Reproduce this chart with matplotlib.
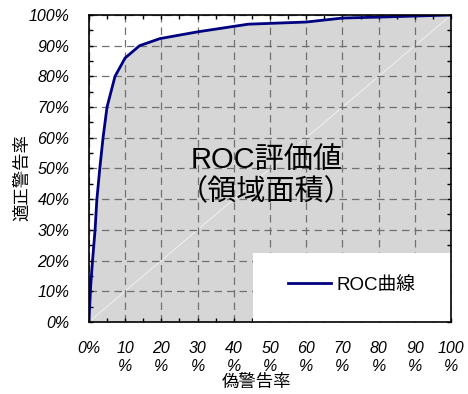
import matplotlib.pyplot as plt
from matplotlib.patches import Rectangle
from matplotlib.ticker import MultipleLocator

# ROC curve (false alarm rate, hit rate)
fpr = [0.0, 0.005, 0.01, 0.017, 0.022, 0.03, 0.039, 0.05, 0.072, 0.10,
       0.14, 0.196, 0.30, 0.44, 0.60, 0.70, 0.80, 1.0]
tpr = [0.0, 0.12, 0.20, 0.30, 0.40, 0.50, 0.60, 0.70, 0.80, 0.86,
       0.90, 0.923, 0.945, 0.97, 0.977, 0.99, 0.993, 1.0]

ticks = [0.0, 0.1, 0.2, 0.3, 0.4, 0.5, 0.6, 0.7, 0.8, 0.9, 1.0]
xlabels = ['0%', '10\n%', '20\n%', '30\n%', '40\n%', '50\n%', '60\n%',
           '70\n%', '80\n%', '90\n%', '100\n%']
ylabels = ['0%', '10%', '20%', '30%', '40%', '50%', '60%', '70%', '80%',
           '90%', '100%']

cjk = ['Noto Sans CJK JP', 'DejaVu Sans']
latin_cjk = ['Liberation Sans', 'Noto Sans CJK JP']
plt.rcParams['hatch.linewidth'] = 0.4
plt.rcParams['hatch.color'] = '#d6d6d6'

fig = plt.figure(figsize=(4.68, 3.94), dpi=100)
ax = fig.add_axes([0.190, 0.183, 0.774, 0.779])

# area under curve, grid-hatched grey
ax.fill_between(fpr, tpr, 0, facecolor='#ebebeb', edgecolor='#d6d6d6',
                hatch='+' * 25, linewidth=0, zorder=1)
ax.plot([0, 1], [0, 1], color='#f4f4f4', lw=0.6, zorder=2)

ax.grid(True, which='major', color='#707070', linestyle=(0, (6, 4)),
        linewidth=0.9, zorder=3)
ax.set_axisbelow(False)

ax.plot(fpr, tpr, color='#000080', lw=2, zorder=5, label='ROC曲線')

# white box behind the legend
ax.add_patch(Rectangle((0.453, 0), 0.547, 0.225, transform=ax.transAxes,
                       facecolor='white', edgecolor='none', zorder=4))
leg = ax.legend(loc='center', bbox_to_anchor=(0.725, 0.12), frameon=False,
                handlelength=2.3, handletextpad=0.3,
                prop={'family': latin_cjk, 'size': 13.5})
leg.set_zorder(6)

ax.text(0.49, 0.475, 'ROC評価値\n（領域面積）', ha='center', va='center',
        fontsize=21, family=latin_cjk, linespacing=1.2, zorder=6)

ax.set_xlim(0, 1)
ax.set_ylim(0, 1)
ax.set_xticks(ticks)
ax.set_yticks(ticks)
ax.set_xticklabels(xlabels, fontsize=11.5, style='italic', family='Liberation Sans',
                   linespacing=1.25)
ax.set_yticklabels(ylabels, fontsize=11.5, style='italic', family='Liberation Sans')
ax.xaxis.set_minor_locator(MultipleLocator(0.05))
ax.yaxis.set_minor_locator(MultipleLocator(0.05))
ax.tick_params(which='both', direction='in', top=True, right=True,
               length=3, width=1)
ax.tick_params(axis='x', which='major', pad=14)
ax.tick_params(axis='y', which='major', pad=14)
for s in ax.spines.values():
    s.set_linewidth(1.2)
    s.set_zorder(7)

ax.set_xlabel('偽警告率', family=cjk, fontsize=12.5)
ax.set_ylabel('適正警告率', family=cjk, fontsize=12.5)
ax.xaxis.set_label_coords(0.464, -0.165)
ax.yaxis.set_label_coords(-0.16, 0.47)

fig.savefig('out.png', dpi=100)
